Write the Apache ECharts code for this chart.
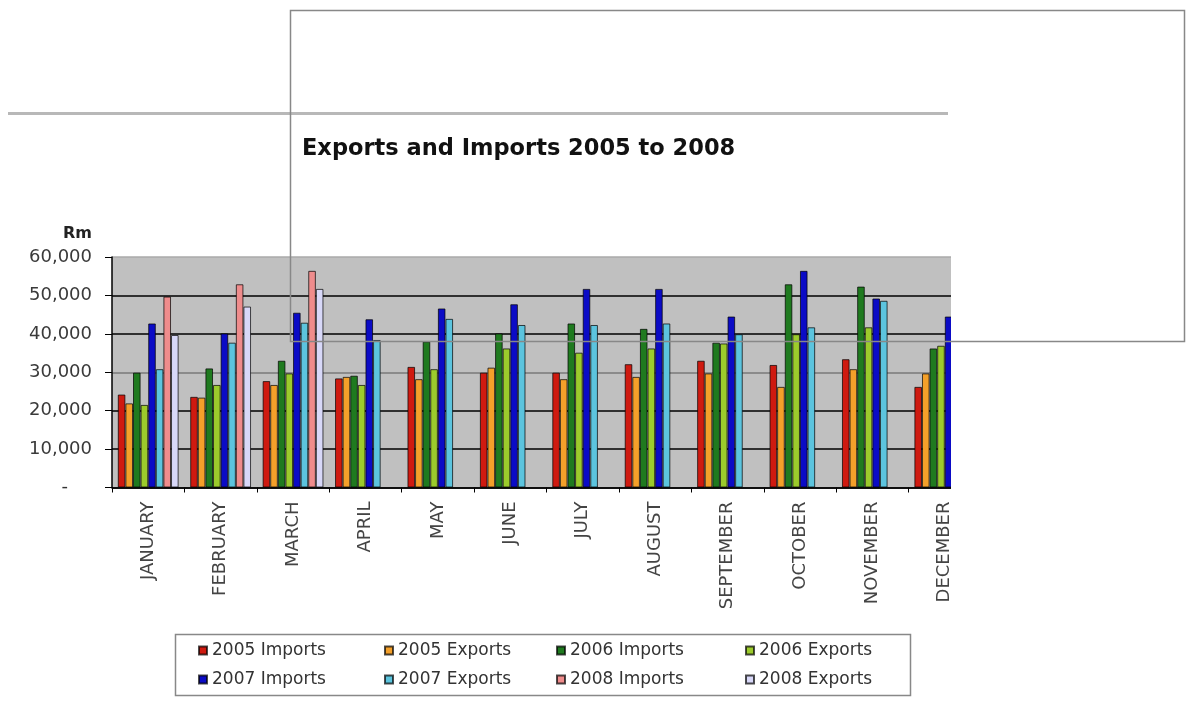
<!DOCTYPE html>
<html lang="en">
<head>
    <meta charset="UTF-8">
    <title>Exports and Imports 2005 to 2008</title>
    <script src="https://cdn.jsdelivr.net/npm/echarts@6/dist/echarts.min.js"></script>
    <style>
        body { margin: 0; background: #fff; }
    </style>
</head>
<body>
<div id="main" style="width: 1190px; height: 713px;"></div>
<script>
    // months on the x axis
    var months = ['JANUARY', 'FEBRUARY', 'MARCH', 'APRIL', 'MAY', 'JUNE', 'JULY',
        'AUGUST', 'SEPTEMBER', 'OCTOBER', 'NOVEMBER', 'DECEMBER'];

    // values in Rm
    var imports2005 = [24200, 23600, 27700, 28400, 31400, 29900, 29900, 32100, 33000, 31900, 33400, 26200];
    var exports2005 = [21900, 23400, 26700, 28800, 28200, 31200, 28200, 28800, 29700, 26200, 30800, 29700];
    var imports2006 = [29900, 31000, 33000, 29100, 38000, 40100, 42700, 41300, 37700, 52900, 52300, 36200];
    var exports2006 = [21500, 26700, 29700, 26700, 30800, 36200, 35100, 36200, 37500, 39900, 41700, 36900];
    var imports2007 = [42700, 40100, 45500, 43800, 46600, 47700, 51700, 51700, 44500, 56400, 49200, 44500];
    var exports2007 = [30800, 37700, 42900, 38400, 43900, 42300, 42300, 42700, 39900, 41700, 48600, null];
    var imports2008 = [49700, 52900, 56400, null, null, null, null, null, null, null, null, null];
    var exports2008 = [39700, 47100, 51700, null, null, null, null, null, null, null, null, null];

    var seriesNames = ['2005 Imports', '2005 Exports', '2006 Imports', '2006 Exports',
        '2007 Imports', '2007 Exports', '2008 Imports', '2008 Exports'];
    var seriesData = [imports2005, exports2005, imports2006, exports2006,
        imports2007, exports2007, imports2008, exports2008];
    var colors = ['#cf1a10', '#f4a02a', '#1f7a1f', '#9ccb2c',
        '#0b0bc6', '#5cc4de', '#ef8c8c', '#d8d8f8'];

    var font = 'DejaVu Sans';

    function makeSeries() {
        var out = [];
        for (var i = 0; i < seriesData.length; i++) {
            out.push({
                name: seriesNames[i],
                type: 'bar',
                data: seriesData[i],
                barGap: '0%',
                barCategoryGap: '16%',
                itemStyle: {
                    color: colors[i],
                    borderColor: 'rgba(0,0,0,0.7)',
                    borderWidth: 1
                }
            });
        }
        return out;
    }

    // legend laid out as 4 columns of 2 rows
    function makeLegends() {
        var cols = [193, 379, 551, 740];
        var out = [];
        for (var c = 0; c < 4; c++) {
            out.push({
                orient: 'vertical',
                left: cols[c],
                top: 637,
                itemWidth: 8,
                itemHeight: 8,
                itemGap: 12,
                icon: 'rect',
                selectedMode: false,
                data: [seriesNames[c], seriesNames[c + 4]],
                textStyle: { fontFamily: font, fontSize: 17, color: '#333' }
            });
        }
        return out;
    }

    var myChart = echarts.init(document.getElementById('main'));
    var option = {
        animation: false,
        color: colors,
        title: {
            text: 'Exports and Imports 2005 to 2008',
            left: 297,
            top: 133,
            textStyle: { fontFamily: font, fontSize: 22.5, fontWeight: 'bold', color: '#111' }
        },
        legend: makeLegends(),
        grid: {
            left: 112,
            top: 257,
            width: 869,
            height: 230.5,
            show: true,
            backgroundColor: '#c0c0c0',
            borderWidth: 0
        },
        xAxis: {
            type: 'category',
            data: months,
            boundaryGap: true,
            axisLine: { lineStyle: { color: '#000', width: 1.5 } },
            axisTick: { show: true, length: 5, lineStyle: { color: '#000' } },
            axisLabel: {
                rotate: 90,
                interval: 0,
                margin: 14,
                fontFamily: font,
                fontSize: 18,
                color: '#444'
            }
        },
        yAxis: {
            type: 'value',
            min: 0,
            max: 60000,
            interval: 10000,
            name: 'Rm',
            nameLocation: 'end',
            nameGap: 15,
            nameTextStyle: {
                fontFamily: font, fontSize: 16, fontWeight: 'bold', color: '#222',
                align: 'right', padding: [0, 20, 0, 0]
            },
            axisLine: { show: true, lineStyle: { color: '#000', width: 1.5 } },
            axisTick: { show: true, length: 7, lineStyle: { color: '#000' } },
            splitLine: {
                show: true,
                lineStyle: {
                    color: ['#000', '#000', '#000', '#7a7a7a', '#000', '#000', '#aaa'],
                    width: 1.5
                }
            },
            axisLabel: {
                margin: 20,
                fontFamily: font,
                fontSize: 18,
                color: '#3a3a3a',
                formatter: function (v) {
                    if (v === 0) return '{d|-}';
                    return v.toLocaleString('en-US');
                },
                rich: {
                    d: { fontFamily: font, fontSize: 18, color: '#333', padding: [0, 24, 0, 0] }
                }
            }
        },
        graphic: [
            {
                type: 'rect', z: 100,
                shape: { x: 951, y: 116, width: 239, height: 597 },
                style: { fill: '#fff' }
            },
            {
                type: 'rect', z: 100,
                shape: { x: 8, y: 112, width: 940, height: 3 },
                style: { fill: '#b8b8b8' }
            },
            {
                type: 'rect', z: 101,
                shape: { x: 175.5, y: 634.5, width: 735, height: 61 },
                style: { fill: 'none', stroke: '#888', lineWidth: 1.5 }
            },
            {
                type: 'rect', z: 102,
                shape: { x: 290.5, y: 10.5, width: 894, height: 331 },
                style: { fill: 'none', stroke: '#888', lineWidth: 1.5 }
            }
        ],
        series: makeSeries()
    };
    myChart.setOption(option);
</script>
</body>
</html>
